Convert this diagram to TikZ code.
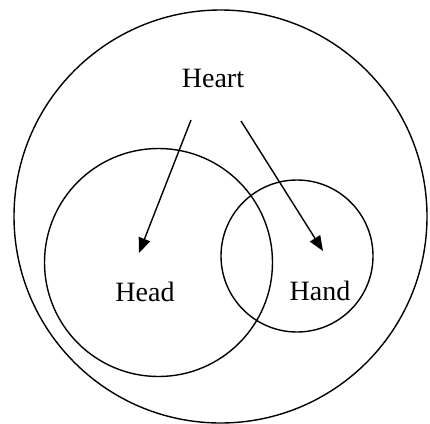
\documentclass[tikz,border=0pt]{standalone}
\usepackage{fontspec}
\setmainfont{Liberation Serif}
\usetikzlibrary{arrows.meta}
\begin{document}
\begin{tikzpicture}[x=1pt, y=-1pt, font=\fontsize{28}{32}\selectfont,
  ring/.style={draw, circle, line width=1.4pt, inner sep=0pt},
  flow/.style={-{Triangle[length=15pt, width=12pt]}, line width=1.4pt}]
  \useasboundingbox (0,0) rectangle (430,423);
  \node[ring, minimum size=413pt] (whole) at (220.5,216.5) {};
  \node[ring, minimum size=228pt] (headring) at (158.5,262.5) {};
  \node[ring, minimum size=152pt] (handring) at (297,256) {};
  \node (heart) at (213,78) {Heart};
  \node (head) at (145,292) {Head};
  \node (hand) at (320,291) {Hand};
  \coordinate (l0) at (191,120);
  \coordinate (l1) at (139,253);
  \coordinate (r0) at (241,121);
  \coordinate (r1) at (323,251);
  \draw[flow] (l0) -- (l1);
  \draw[flow] (r0) -- (r1);
\end{tikzpicture}
\end{document}
